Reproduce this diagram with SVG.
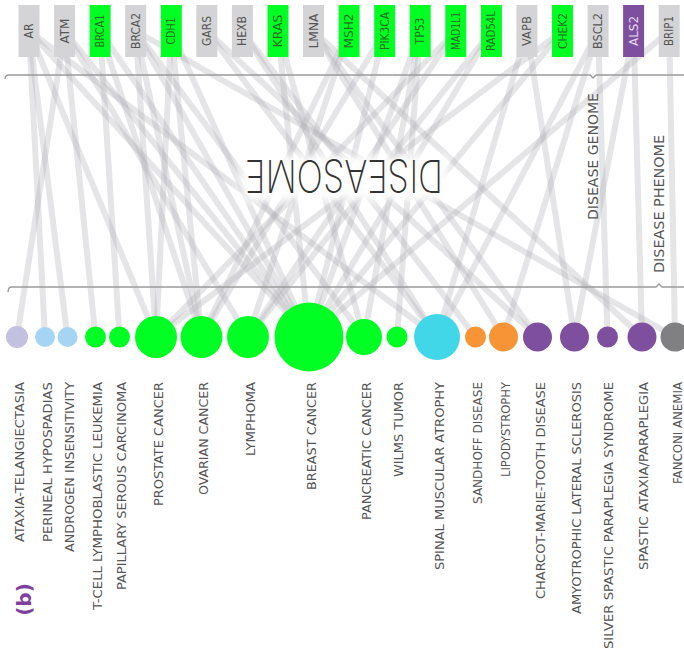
<svg xmlns="http://www.w3.org/2000/svg" width="684" height="656" viewBox="0 0 684 656">
<style>
.e{stroke:#b0b0b6;stroke-opacity:.33;stroke-width:6;fill:none}
.g{fill:#d4d4d6}
.gg{fill:#00ff22}
.gp{fill:#7f4f9f}
.gt{font-family:'DejaVu Sans Condensed','DejaVu Sans',sans-serif;font-size:11.5px;fill:#555;text-anchor:middle}
.gtg{fill:#1e6e22}
.gtp{fill:#e4dcee}
.dl{font-family:'DejaVu Sans Condensed','DejaVu Sans',sans-serif;font-size:12.5px;fill:#555;text-anchor:end}
.br{stroke:#9a9a9a;stroke-width:1.3;fill:none}
.side{font-family:'DejaVu Sans Condensed','DejaVu Sans',sans-serif;font-size:14.5px;fill:#555;text-anchor:middle}
</style>
<defs>
<filter id="soft" x="-20%" y="-50%" width="140%" height="200%"><feGaussianBlur stdDeviation="5"/></filter>
</defs>
<rect width="684" height="656" fill="#fff"/>
<g id="connectors">
<!-- AR -->
<line class="e" x1="29" y1="31" x2="45" y2="337"/>
<line class="e" x1="29" y1="31" x2="67.5" y2="337"/>
<line class="e" x1="29" y1="31" x2="156" y2="337"/>
<line class="e" x1="29" y1="31" x2="309" y2="337"/>
<line class="e" x1="29" y1="31" x2="437" y2="337"/>
<!-- ATM -->
<line class="e" x1="64.6" y1="31" x2="17" y2="337"/>
<line class="e" x1="64.6" y1="31" x2="95.5" y2="337"/>
<line class="e" x1="64.6" y1="31" x2="248" y2="337"/>
<line class="e" x1="64.6" y1="31" x2="309" y2="337"/>
<!-- BRCA1 -->
<line class="e" x1="100.1" y1="31" x2="119.5" y2="337"/>
<line class="e" x1="100.1" y1="31" x2="201.5" y2="337"/>
<line class="e" x1="100.1" y1="31" x2="309" y2="337"/>
<!-- BRCA2 -->
<line class="e" x1="135.7" y1="31" x2="156" y2="337"/>
<line class="e" x1="135.7" y1="31" x2="201.5" y2="337"/>
<line class="e" x1="135.7" y1="31" x2="309" y2="337"/>
<line class="e" x1="135.7" y1="31" x2="364" y2="337"/>
<line class="e" x1="135.7" y1="31" x2="675" y2="337"/>
<!-- CDH1 -->
<line class="e" x1="171.3" y1="31" x2="156" y2="337"/>
<line class="e" x1="171.3" y1="31" x2="201.5" y2="337"/>
<line class="e" x1="171.3" y1="31" x2="309" y2="337"/>
<!-- GARS -->
<line class="e" x1="206.8" y1="31" x2="437" y2="337"/>
<line class="e" x1="206.8" y1="31" x2="537.5" y2="337"/>
<!-- HEXB -->
<line class="e" x1="242.4" y1="31" x2="437" y2="337"/>
<line class="e" x1="242.4" y1="31" x2="475.5" y2="337"/>
<!-- KRAS -->
<line class="e" x1="278" y1="31" x2="309" y2="337"/>
<line class="e" x1="278" y1="31" x2="364" y2="337"/>
<!-- LMNA -->
<line class="e" x1="313.5" y1="31" x2="503.5" y2="337"/>
<line class="e" x1="313.5" y1="31" x2="537.5" y2="337"/>
<line class="e" x1="313.5" y1="31" x2="642" y2="337"/>
<!-- MSH2 -->
<line class="e" x1="349.1" y1="31" x2="201.5" y2="337"/>
<line class="e" x1="349.1" y1="31" x2="248" y2="337"/>
<!-- PIK3CA -->
<line class="e" x1="384.7" y1="31" x2="201.5" y2="337"/>
<line class="e" x1="384.7" y1="31" x2="309" y2="337"/>
<!-- TP53 -->
<line class="e" x1="420.2" y1="31" x2="309" y2="337"/>
<line class="e" x1="420.2" y1="31" x2="364" y2="337"/>
<line class="e" x1="420.2" y1="31" x2="397" y2="337"/>
<!-- MAD1L1 -->
<line class="e" x1="455.8" y1="31" x2="156" y2="337"/>
<line class="e" x1="455.8" y1="31" x2="248" y2="337"/>
<!-- RAD54L -->
<line class="e" x1="491.4" y1="31" x2="248" y2="337"/>
<line class="e" x1="491.4" y1="31" x2="309" y2="337"/>
<!-- VAPB -->
<line class="e" x1="526.9" y1="31" x2="437" y2="337"/>
<line class="e" x1="526.9" y1="31" x2="574.5" y2="337"/>
<!-- CHEK2 -->
<line class="e" x1="562.5" y1="31" x2="156" y2="337"/>
<line class="e" x1="562.5" y1="31" x2="309" y2="337"/>
<!-- BSCL2 -->
<line class="e" x1="598.1" y1="31" x2="437" y2="337"/>
<line class="e" x1="598.1" y1="31" x2="503.5" y2="337"/>
<line class="e" x1="598.1" y1="31" x2="607.5" y2="337"/>
<!-- ALS2 -->
<line class="e" x1="633.6" y1="31" x2="574.5" y2="337"/>
<line class="e" x1="633.6" y1="31" x2="642" y2="337"/>
<!-- BRIP1 -->
<line class="e" x1="669.2" y1="31" x2="309" y2="337"/>
<line class="e" x1="669.2" y1="31" x2="675" y2="337"/>
</g>
<rect x="242" y="156" width="206" height="44" fill="#fff" filter="url(#soft)"/>
<g id="title">
<text transform="translate(344,160) rotate(180)" font-family="Inter,Roboto,'DejaVu Sans',sans-serif" font-size="45" font-weight="200" fill="#333" text-anchor="middle" textLength="198" lengthAdjust="spacingAndGlyphs">DISEASOME</text>
</g>
<g id="brackets">
<path class="br" d="M5,79 Q5,75 9,75 H590 L593,78 L596,75 H684"/>
<path class="br" d="M8,292 Q8,287 12,287 H656 L659,284 L662,287 H684"/>
<text class="side" transform="translate(598,156.5) rotate(-90)" textLength="127" lengthAdjust="spacingAndGlyphs">DISEASE GENOME</text>
<text class="side" transform="translate(664,204) rotate(-90)" textLength="138" lengthAdjust="spacingAndGlyphs">DISEASE PHENOME</text>
</g>
<g id="genes">
<g id="g-AR"><rect class="g" x="18.5" y="5" width="21" height="52"/><text class="gt" transform="translate(33,31) rotate(-90)" textLength="15" lengthAdjust="spacingAndGlyphs">AR</text></g>
<g id="g-ATM"><rect class="g" x="54.1" y="5" width="21" height="52"/><text class="gt" transform="translate(68.6,31) rotate(-90)" textLength="25" lengthAdjust="spacingAndGlyphs">ATM</text></g>
<g id="g-BRCA1"><rect class="gg" x="89.6" y="5" width="21" height="52"/><text class="gt gtg" transform="translate(104.1,31) rotate(-90)" textLength="33" lengthAdjust="spacingAndGlyphs">BRCA1</text></g>
<g id="g-BRCA2"><rect class="g" x="125.2" y="5" width="21" height="52"/><text class="gt" transform="translate(139.7,31) rotate(-90)" textLength="36" lengthAdjust="spacingAndGlyphs">BRCA2</text></g>
<g id="g-CDH1"><rect class="gg" x="160.8" y="5" width="21" height="52"/><text class="gt gtg" transform="translate(175.3,31) rotate(-90)" textLength="27" lengthAdjust="spacingAndGlyphs">CDH1</text></g>
<g id="g-GARS"><rect class="g" x="196.3" y="5" width="21" height="52"/><text class="gt" transform="translate(210.8,31) rotate(-90)" textLength="30" lengthAdjust="spacingAndGlyphs">GARS</text></g>
<g id="g-HEXB"><rect class="g" x="231.9" y="5" width="21" height="52"/><text class="gt" transform="translate(246.4,31) rotate(-90)" textLength="30" lengthAdjust="spacingAndGlyphs">HEXB</text></g>
<g id="g-KRAS"><rect class="gg" x="267.5" y="5" width="21" height="52"/><text class="gt gtg" transform="translate(282,31) rotate(-90)" textLength="33" lengthAdjust="spacingAndGlyphs">KRAS</text></g>
<g id="g-LMNA"><rect class="g" x="303" y="5" width="21" height="52"/><text class="gt" transform="translate(317.5,31) rotate(-90)" textLength="35" lengthAdjust="spacingAndGlyphs">LMNA</text></g>
<g id="g-MSH2"><rect class="gg" x="338.6" y="5" width="21" height="52"/><text class="gt gtg" transform="translate(353.1,31) rotate(-90)" textLength="35" lengthAdjust="spacingAndGlyphs">MSH2</text></g>
<g id="g-PIK3CA"><rect class="gg" x="374.2" y="5" width="21" height="52"/><text class="gt gtg" transform="translate(388.7,31) rotate(-90)" textLength="38" lengthAdjust="spacingAndGlyphs">PIK3CA</text></g>
<g id="g-TP53"><rect class="gg" x="409.7" y="5" width="21" height="52"/><text class="gt gtg" transform="translate(424.2,31) rotate(-90)" textLength="27" lengthAdjust="spacingAndGlyphs">TP53</text></g>
<g id="g-MAD1L1"><rect class="gg" x="445.3" y="5" width="21" height="52"/><text class="gt gtg" transform="translate(459.8,31) rotate(-90)" textLength="38" lengthAdjust="spacingAndGlyphs">MAD1L1</text></g>
<g id="g-RAD54L"><rect class="gg" x="480.9" y="5" width="21" height="52"/><text class="gt gtg" transform="translate(495.4,31) rotate(-90)" textLength="40" lengthAdjust="spacingAndGlyphs">RAD54L</text></g>
<g id="g-VAPB"><rect class="g" x="516.4" y="5" width="21" height="52"/><text class="gt" transform="translate(530.9,31) rotate(-90)" textLength="30" lengthAdjust="spacingAndGlyphs">VAPB</text></g>
<g id="g-CHEK2"><rect class="gg" x="552" y="5" width="21" height="52"/><text class="gt gtg" transform="translate(566.5,31) rotate(-90)" textLength="36" lengthAdjust="spacingAndGlyphs">CHEK2</text></g>
<g id="g-BSCL2"><rect class="g" x="587.6" y="5" width="21" height="52"/><text class="gt" transform="translate(602.1,31) rotate(-90)" textLength="36" lengthAdjust="spacingAndGlyphs">BSCL2</text></g>
<g id="g-ALS2"><rect class="gp" x="623.1" y="5" width="21" height="52"/><text class="gt gtp" transform="translate(637.6,31) rotate(-90)" textLength="30" lengthAdjust="spacingAndGlyphs">ALS2</text></g>
<g id="g-BRIP1"><rect class="g" x="658.7" y="5" width="21" height="52"/><text class="gt" transform="translate(673.2,31) rotate(-90)" textLength="30" lengthAdjust="spacingAndGlyphs">BRIP1</text></g>
</g>
<g id="diseases">
<g id="d-ataxia"><circle cx="17" cy="337" r="11" fill="#c4c0e0"/><text class="dl" transform="translate(23.5,382) rotate(-90)" textLength="160" lengthAdjust="spacingAndGlyphs">ATAXIA-TELANGIECTASIA</text></g>
<g id="d-perineal"><circle cx="45" cy="337" r="10" fill="#a6d5f4"/><text class="dl" transform="translate(51.5,382) rotate(-90)" textLength="160" lengthAdjust="spacingAndGlyphs">PERINEAL HYPOSPADIAS</text></g>
<g id="d-androgen"><circle cx="67.5" cy="337" r="10" fill="#a6d5f4"/><text class="dl" transform="translate(74,382) rotate(-90)" textLength="170" lengthAdjust="spacingAndGlyphs">ANDROGEN INSENSITIVITY</text></g>
<g id="d-tcell"><circle cx="95.5" cy="337" r="10.5" fill="#00ff22"/><text class="dl" transform="translate(102,382) rotate(-90)" textLength="228" lengthAdjust="spacingAndGlyphs">T-CELL LYMPHOBLASTIC LEUKEMIA</text></g>
<g id="d-papillary"><circle cx="119.5" cy="337" r="10.5" fill="#00ff22"/><text class="dl" transform="translate(126,382) rotate(-90)" textLength="208" lengthAdjust="spacingAndGlyphs">PAPILLARY SEROUS CARCINOMA</text></g>
<g id="d-prostate"><circle cx="156" cy="337" r="21" fill="#00ff22"/><text class="dl" transform="translate(162.5,382) rotate(-90)" textLength="124" lengthAdjust="spacingAndGlyphs">PROSTATE CANCER</text></g>
<g id="d-ovarian"><circle cx="201.5" cy="337" r="21" fill="#00ff22"/><text class="dl" transform="translate(208,382) rotate(-90)" textLength="113" lengthAdjust="spacingAndGlyphs">OVARIAN CANCER</text></g>
<g id="d-lymphoma"><circle cx="248" cy="337" r="21" fill="#00ff22"/><text class="dl" transform="translate(254.5,382) rotate(-90)" textLength="74" lengthAdjust="spacingAndGlyphs">LYMPHOMA</text></g>
<g id="d-breast"><circle cx="309" cy="337" r="34.5" fill="#00ff22"/><text class="dl" transform="translate(315.5,382) rotate(-90)" textLength="108" lengthAdjust="spacingAndGlyphs">BREAST CANCER</text></g>
<g id="d-pancreatic"><circle cx="364" cy="337" r="18" fill="#00ff22"/><text class="dl" transform="translate(370.5,382) rotate(-90)" textLength="138" lengthAdjust="spacingAndGlyphs">PANCREATIC CANCER</text></g>
<g id="d-wilms"><circle cx="397" cy="337" r="10.5" fill="#00ff22"/><text class="dl" transform="translate(403,382) rotate(-90)" textLength="95" lengthAdjust="spacingAndGlyphs">WILMS TUMOR</text></g>
<g id="d-spinal"><circle cx="437" cy="337" r="23" fill="#41d6e8"/><text class="dl" transform="translate(444,382) rotate(-90)" textLength="188" lengthAdjust="spacingAndGlyphs">SPINAL MUSCULAR ATROPHY</text></g>
<g id="d-sandhoff"><circle cx="475.5" cy="337" r="10.5" fill="#f69436"/><text class="dl" transform="translate(482,382) rotate(-90)" textLength="122" lengthAdjust="spacingAndGlyphs">SANDHOFF DISEASE</text></g>
<g id="d-lipodystrophy"><circle cx="503.5" cy="337" r="14.5" fill="#f69436"/><text class="dl" transform="translate(510,382) rotate(-90)" textLength="95" lengthAdjust="spacingAndGlyphs">LIPODYSTROPHY</text></g>
<g id="d-cmt"><circle cx="537.5" cy="337" r="14.5" fill="#7f4f9f"/><text class="dl" transform="translate(545,382) rotate(-90)" textLength="217" lengthAdjust="spacingAndGlyphs">CHARCOT-MARIE-TOOTH DISEASE</text></g>
<g id="d-als"><circle cx="574.5" cy="337" r="14.5" fill="#7f4f9f"/><text class="dl" transform="translate(581,382) rotate(-90)" textLength="232" lengthAdjust="spacingAndGlyphs">AMYOTROPHIC LATERAL SCLEROSIS</text></g>
<g id="d-silver"><circle cx="607.5" cy="337" r="10.5" fill="#7f4f9f"/><text class="dl" transform="translate(613,382) rotate(-90)" textLength="267" lengthAdjust="spacingAndGlyphs">SILVER SPASTIC PARAPLEGIA SYNDROME</text></g>
<g id="d-spastic"><circle cx="642" cy="337" r="14.5" fill="#7f4f9f"/><text class="dl" transform="translate(648,382) rotate(-90)" textLength="188" lengthAdjust="spacingAndGlyphs">SPASTIC ATAXIA/PARAPLEGIA</text></g>
<g id="d-fanconi"><circle cx="675" cy="337" r="14.5" fill="#808082"/><text class="dl" transform="translate(682,382) rotate(-90)" textLength="102" lengthAdjust="spacingAndGlyphs">FANCONI ANEMIA</text></g>
</g>
<text transform="translate(31,599.5) rotate(-90)" font-family="'DejaVu Sans','Liberation Sans',sans-serif" font-size="20" font-weight="bold" fill="#8040a0" text-anchor="middle">(b)</text>
</svg>
